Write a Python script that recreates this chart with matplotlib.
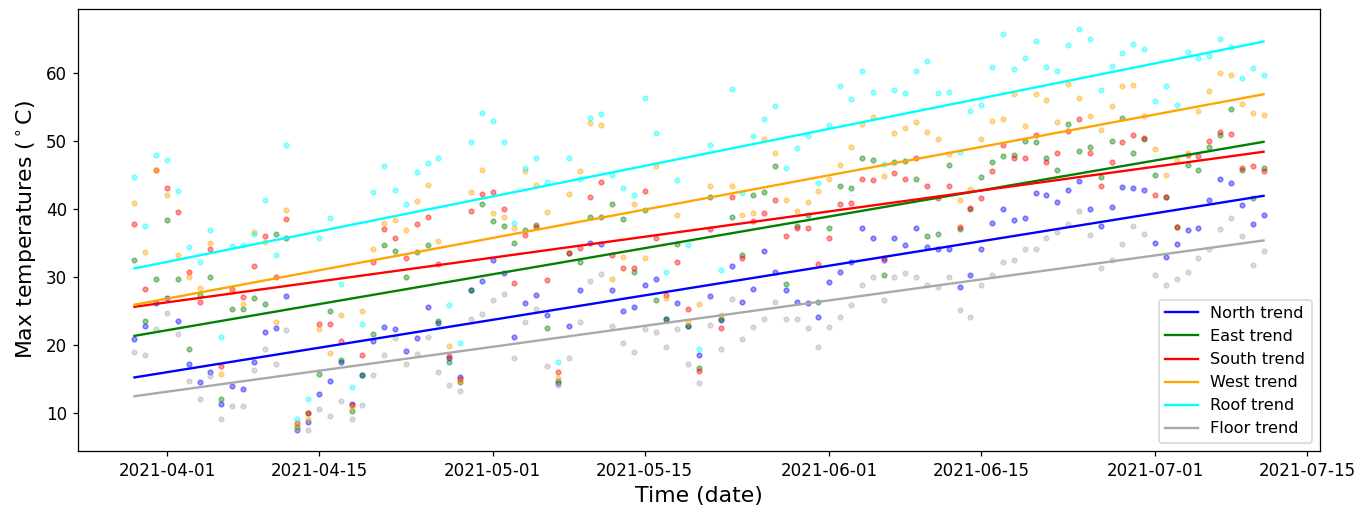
import matplotlib
matplotlib.use('Agg')
import matplotlib.pyplot as plt
import matplotlib.dates as mdates
import numpy as np
import pandas as pd

# ---------------- data ----------------
start_date = '2021-03-29'
n_days = 105

north = [20.9, 22.8, 26.2, 26.9, 23.6, 17.2, 14.6, 16.0, 11.4, 14.0, 13.6, 17.6, 21.9,
         22.5, 27.3, 7.5, 8.7, 12.9, 14.8, 17.5, 11.4, 15.6, 20.7, 22.7, 22.4, 19.2, 21.0,
         25.7, 23.3, 18.2, 15.4, 28.2, 29.4, 32.5, 30.6, 21.2, 26.2, 27.4, 24.4, 14.5, 22.9,
         28.1, 35.0, 34.9, 28.1, 25.1, 25.7, 28.9, 29.7, 23.9, 26.2, 22.8, 18.5, 27.3, 23.7,
         31.7, 26.4, 28.3, 33.9, 30.8, 28.1, 26.4, 26.2, 24.1, 29.3, 30.8, 32.3, 37.2, 35.8,
         32.6, 35.7, 34.7, 37.2, 34.4, 34.2, 34.2, 28.6, 30.3, 34.2, 38.0, 40.0, 38.4, 38.7,
         42.4, 42.1, 41.1, 42.9, 44.1, 40.1, 37.5, 40.4, 43.2, 43.1, 42.9, 35.0, 33.0, 34.9,
         36.9, 37.2, 41.4, 44.5, 43.8, 40.6, 37.9, 39.1]

east = [32.6, 23.6, 29.8, 38.4, 29.8, 19.5, 27.4, 30.1, 12.1, 25.4, 25.4, 27.0, 26.1,
        36.4, 35.8, 8.0, 10.1, 15.8, 25.1, 17.8, 10.3, 15.6, 21.7, 34.7, 33.8, 30.1, 33.7,
        34.7, 23.6, 17.5, 14.6, 28.2, 40.7, 38.2, 37.5, 35.0, 36.9, 37.7, 22.5, 14.8, 33.5,
        32.2, 38.8, 38.8, 40.7, 38.6, 30.8, 39.9, 26.6, 23.9, 34.9, 22.8, 16.7, 41.8, 23.9,
        38.9, 33.2, 42.1, 42.6, 46.3, 29.0, 37.5, 39.1, 26.3, 37.2, 43.4, 43.1, 47.5, 47.3,
        30.3, 47.0, 47.1, 44.5, 36.0, 36.4, 46.5, 37.1, 40.1, 44.8, 47.0, 47.8, 48.0, 50.0,
        49.9, 47.5, 45.8, 52.5, 48.6, 49.2, 44.8, 50.0, 53.4, 48.3, 50.4, 45.0, 41.8, 37.4,
        46.5, 45.8, 49.2, 50.9, 54.7, 45.8, 41.6, 46.1]

south = [37.9, 28.3, 45.7, 43.1, 39.6, 30.8, 26.4, 34.2, 17.0, 28.3, 27.1, 31.7, 36.0,
         30.0, 38.6, 8.6, 10.1, 23.2, 23.2, 20.7, 11.2, 18.5, 32.2, 37.1, 35.7, 32.8, 37.9,
         38.9, 32.0, 18.4, 15.1, 39.8, 42.3, 42.5, 40.0, 29.1, 36.2, 37.4, 29.6, 16.0, 33.5,
         34.3, 41.8, 44.0, 33.3, 31.3, 31.3, 42.7, 35.8, 27.4, 32.2, 25.4, 16.2, 37.1, 22.5,
         41.8, 32.8, 38.2, 39.4, 41.4, 36.0, 37.2, 37.2, 32.0, 35.8, 40.7, 40.9, 44.5, 44.3,
         32.8, 45.3, 44.5, 47.5, 43.4, 41.6, 43.4, 37.4, 40.2, 41.7, 45.6, 49.5, 47.6, 47.6,
         50.9, 47.0, 48.3, 51.5, 53.2, 48.3, 43.4, 47.0, 49.9, 50.9, 50.5, 42.1, 41.8, 37.4,
         48.0, 47.8, 50.0, 51.4, 51.0, 46.1, 46.3, 45.6]

west = [40.9, 33.7, 45.7, 42.1, 33.2, 30.1, 28.4, 35.0, 15.8, 28.0, 26.1, 36.7, 35.2,
        23.4, 39.9, 8.3, 9.2, 22.4, 18.8, 24.4, 10.9, 25.1, 34.2, 38.0, 38.4, 36.9, 41.2,
        43.6, 35.3, 19.9, 14.8, 42.5, 45.8, 39.4, 38.9, 37.2, 45.6, 43.5, 39.6, 15.2, 42.3,
        45.6, 52.7, 52.4, 29.8, 33.0, 40.7, 32.8, 46.4, 26.9, 39.2, 23.4, 26.1, 43.4, 24.5,
        43.4, 39.1, 39.4, 50.3, 48.3, 41.4, 39.8, 41.1, 42.7, 44.5, 46.5, 49.2, 52.6, 53.5,
        44.9, 51.2, 52.0, 52.8, 51.3, 50.3, 48.1, 41.4, 43.0, 50.3, 53.0, 53.2, 56.9, 52.2,
        56.9, 56.1, 52.8, 58.4, 56.4, 53.7, 51.7, 55.2, 58.1, 58.2, 53.7, 48.8, 45.0, 47.2,
        48.3, 54.4, 57.4, 60.1, 59.8, 55.5, 54.2, 53.9]

roof = [44.8, 37.5, 48.0, 47.2, 42.7, 34.5, 32.2, 36.9, 21.2, 34.6, 34.7, 36.4, 41.3,
        33.2, 49.5, 9.2, 12.1, 35.7, 38.7, 29.0, 13.8, 23.2, 42.6, 46.3, 42.9, 40.7, 45.5,
        46.8, 47.5, 25.9, 20.3, 49.9, 54.2, 53.0, 49.9, 38.0, 46.1, 47.6, 44.0, 17.5, 47.5,
        44.5, 53.4, 54.0, 45.1, 43.1, 42.1, 56.4, 51.2, 30.8, 44.3, 34.7, 19.4, 49.5, 31.1,
        57.7, 42.4, 50.7, 53.2, 55.2, 46.0, 49.0, 50.7, 43.9, 52.4, 58.1, 56.2, 60.3, 57.3,
        46.7, 57.6, 57.1, 60.4, 61.8, 57.1, 57.3, 48.4, 54.4, 55.4, 60.9, 65.8, 60.6, 62.2,
        64.7, 60.9, 60.3, 64.1, 66.5, 65.1, 57.6, 61.1, 63.0, 64.3, 63.5, 55.9, 58.1, 55.4,
        63.1, 62.2, 62.5, 65.0, 63.8, 59.3, 60.8, 59.8]

floor = [19.0, 18.5, 22.4, 24.8, 21.7, 14.8, 12.1, 15.5, 9.1, 11.1, 11.1, 16.3, 19.4,
         17.3, 22.2, 7.7, 7.5, 10.7, 9.6, 11.8, 9.2, 11.2, 15.6, 18.5, 21.0, 17.3, 18.7,
         21.2, 16.0, 14.1, 13.3, 23.9, 24.6, 26.6, 27.6, 18.2, 23.4, 25.4, 17.0, 14.1, 18.2,
         23.4, 29.5, 30.5, 22.9, 20.3, 19.0, 22.4, 21.9, 19.7, 22.4, 17.2, 14.5, 23.0, 19.5,
         26.8, 20.9, 22.7, 23.9, 26.3, 23.9, 23.9, 22.5, 19.7, 22.7, 24.1, 25.9, 28.8, 30.1,
         26.6, 30.0, 30.6, 30.1, 28.8, 28.6, 30.1, 25.2, 24.1, 28.9, 30.3, 32.3, 32.6, 34.2,
         34.2, 35.7, 36.7, 37.9, 39.8, 36.2, 31.3, 32.5, 34.9, 37.5, 36.4, 30.3, 28.8, 29.8,
         30.8, 32.8, 34.2, 37.1, 38.7, 36.0, 31.8, 33.8]

series_names = ['North', 'East', 'South', 'West', 'Roof', 'Floor']
series_colors = ['blue', 'green', 'red', 'orange', 'cyan', 'darkgray']
series_values = [north, east, south, west, roof, floor]

# ---------------- plot ----------------
dates = pd.date_range(start_date, periods=n_days)
xnum = mdates.date2num(dates)

W, H, DPI = 1370, 509, 113
fig = plt.figure(figsize=(W / DPI, H / DPI), dpi=DPI)
ax = fig.add_axes([78 / W, 1 - 451 / H, (1320 - 78) / W, (451 - 9) / H])

for name, vals, col in zip(series_names, series_values, series_colors):
    ax.plot(dates, vals, '.', color=col, alpha=0.4)

for name, vals, col in zip(series_names, series_values, series_colors):
    coef = np.polyfit(xnum, np.asarray(vals), 1)
    ax.plot(dates, np.polyval(coef, xnum), color=col, label=f'{name} trend')

ax.set_xlim(xnum[0] - 5.2, xnum[-1] + 5.2)
ax.set_ylim(4.45, 69.45)
ax.tick_params(labelsize=10.7)
ax.set_xlabel('Time (date)', fontsize=14)
ax.set_ylabel('Max temperatures ($^\\circ$C)', fontsize=14)
ax.legend(loc='lower right', fontsize=10.3)

fig.savefig('out.png', dpi=DPI)
